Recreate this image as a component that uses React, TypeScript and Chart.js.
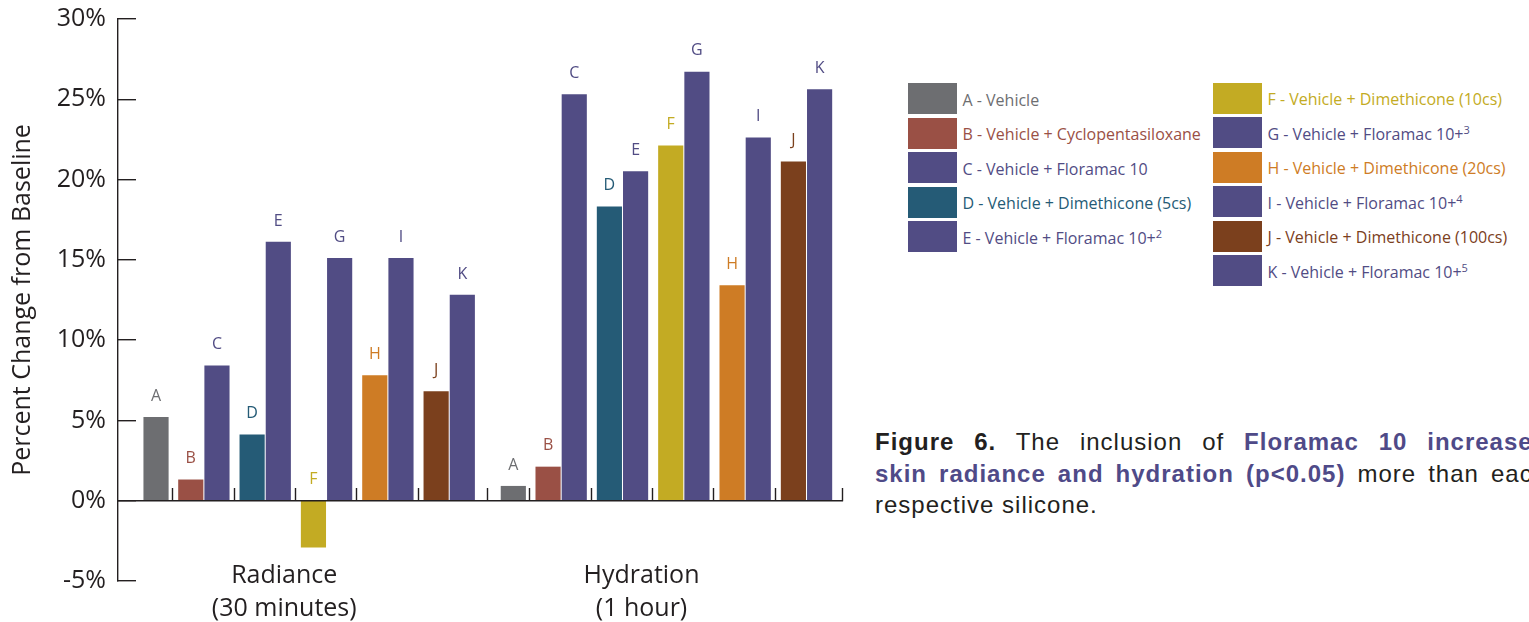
import React, { useEffect, useRef } from 'react';
import { Chart, registerables } from 'chart.js';

Chart.register(...registerables);

// ---------- data ----------
const LETTERS = ['A', 'B', 'C', 'D', 'E', 'F', 'G', 'H', 'I', 'J', 'K'];
const LEGEND_TEXT = [
  'A - Vehicle',
  'B - Vehicle + Cyclopentasiloxane',
  'C - Vehicle + Floramac 10',
  'D - Vehicle + Dimethicone (5cs)',
  'E - Vehicle + Floramac 10+',
  'F - Vehicle + Dimethicone (10cs)',
  'G - Vehicle + Floramac 10+',
  'H - Vehicle + Dimethicone (20cs)',
  'I - Vehicle + Floramac 10+',
  'J - Vehicle + Dimethicone (100cs)',
  'K - Vehicle + Floramac 10+',
];
const LEGEND_SUP = ['', '', '', '', '2', '', '3', '', '4', '', '5'];
const GROUP_LINES = [
  ['Radiance', '(30 minutes)'],
  ['Hydration', '(1 hour)'],
];
const RADIANCE = [5.2, 1.3, 8.4, 4.1, 16.1, -2.9, 15.1, 7.8, 15.1, 6.8, 12.8];
const HYDRATION = [0.9, 2.1, 25.3, 18.3, 20.5, 22.1, 26.7, 13.4, 22.6, 21.1, 25.6];
const Y_MIN = -5;
const Y_MAX = 30;
const Y_STEP = 5;
const Y_TITLE = 'Percent Change from Baseline';

// ---------- styles ----------
const COLORS = [
  '#6d6e71',
  '#9a5045',
  '#514c84',
  '#255b76',
  '#514c84',
  '#c3ab23',
  '#514c84',
  '#ce7c25',
  '#514c84',
  '#7b401d',
  '#514c84',
];
const INK = '#231f20';
const FONT = '"Open Sans", "Noto Sans", sans-serif';
const CAPTION_FONT = '"Liberation Sans", Arial, sans-serif';
const PURPLE_TXT = '#4f4a88';

// ---------- layout (x units: one pair-slot = 1) ----------
const A_SLOT = 0.69;
const PAIR_COUNT = 5;
const GROUP_GAP = 0.135;
const A_OFFSET = 0.28;
const PAIR_HALF = 0.2135;
const X_MIN = -0.9;
const X_MAX = 10.92;

function groupStart(g: number) {
  return g * (A_SLOT + PAIR_COUNT + GROUP_GAP) - A_SLOT;
}
function barX(g: number, i: number) {
  const s = groupStart(g);
  if (i === 0) return s + A_SLOT - A_OFFSET;
  const pair = Math.floor((i - 1) / 2);
  const side = (i - 1) % 2 === 0 ? -1 : 1;
  return s + A_SLOT + pair + 0.5 + side * PAIR_HALF;
}
function boundaries(): number[] {
  const out: number[] = [];
  GROUP_LINES.forEach((_, g) => {
    const s = groupStart(g);
    if (g > 0) out.push(s);
    for (let k = 0; k < PAIR_COUNT; k++) out.push(s + A_SLOT + k);
  });
  out.push(X_MAX);
  return out;
}

const decorPlugin = {
  id: 'decor',
  afterDatasetsDraw(chart: any) {
    const { ctx, chartArea, scales } = chart;
    const xs = scales.x;
    const ys = scales.y;
    const y0 = ys.getPixelForValue(0);
    ctx.save();
    // baseline + category separators
    ctx.strokeStyle = INK;
    ctx.lineWidth = 1.4;
    ctx.beginPath();
    ctx.moveTo(chartArea.left, y0);
    ctx.lineTo(chartArea.right, y0);
    boundaries().forEach((b) => {
      const px = Math.round(xs.getPixelForValue(b)) - 0.5;
      ctx.moveTo(px, y0 + 0.5);
      ctx.lineTo(px, y0 - 12.7);
    });
    ctx.stroke();

    // letters above bars
    ctx.font = `16px ${FONT}`;
    ctx.textAlign = 'center';
    ctx.textBaseline = 'alphabetic';
    chart.data.datasets.forEach((ds: any, i: number) => {
      const meta = chart.getDatasetMeta(i);
      meta.data.forEach((el: any) => {
        const top = Math.min(el.y, y0);
        ctx.fillStyle = COLORS[i];
        ctx.fillText(LETTERS[i], el.x, top - 16.5);
      });
    });

    // group labels
    ctx.fillStyle = INK;
    ctx.font = `25px ${FONT}`;
    GROUP_LINES.forEach((lines, g) => {
      const px = xs.getPixelForValue(groupStart(g) + 2.5);
      ctx.fillText(lines[0], px, 583);
      ctx.fillText(lines[1], px, 615.5);
    });
    ctx.restore();
  },
};

export default function App() {
  const ref = useRef<HTMLCanvasElement | null>(null);

  useEffect(() => {
    if (!ref.current) return;
    const chart = new Chart(ref.current, {
      type: 'bar',
      data: {
        datasets: LETTERS.map((l, i) => ({
          label: l,
          data: [RADIANCE[i], HYDRATION[i]].map((v, g) => ({ x: barX(g, i), y: v })),
          backgroundColor: COLORS[i],
          borderWidth: 0,
          barThickness: 24.5,
          grouped: false,
        })),
      },
      options: {
        animation: false,
        responsive: false,
        maintainAspectRatio: false,
        layout: { padding: { top: 19, bottom: 41, left: 0, right: 27 } },
        plugins: { legend: { display: false }, tooltip: { enabled: false } },
        scales: {
          x: { type: 'linear', display: false, offset: false, min: X_MIN, max: X_MAX },
          y: {
            min: Y_MIN,
            max: Y_MAX,
            ticks: {
              stepSize: Y_STEP,
              callback: (v: any) => `${v}%`,
              font: { family: FONT, size: 25 },
              color: INK,
              padding: 30,
            },
            grid: {
              drawOnChartArea: false,
              drawTicks: true,
              tickLength: -18,
              color: INK,
              lineWidth: 1.4,
            },
            border: { display: true, color: INK, width: 1.4 },
            title: {
              display: true,
              text: Y_TITLE,
              font: { family: FONT, size: 25 },
              color: INK,
              padding: { top: 8, bottom: 0 },
            },
            afterFit: (s: any) => {
              s.width = 118;
              s.paddingTop = 0;
              s.paddingBottom = 0;
            },
          },
        },
      } as any,
      plugins: [decorPlugin],
    });
    return () => chart.destroy();
  }, []);

  return (
    <div
      style={{
        position: 'absolute',
        left: 0,
        top: 0,
        width: 1529,
        height: 622,
        overflow: 'hidden',
        background: '#fff',
      }}
    >
      <canvas ref={ref} width={870} height={622} style={{ position: 'absolute', left: 0, top: 0 }} />
      {LETTERS.map((l, i) => {
        const col = i < 5 ? 0 : 1;
        const row = col ? i - 5 : i;
        const left = col ? 1213 : 908;
        const top = (col ? 82.5 : 83.3) + row * 34.5;
        return (
          <div
            key={l}
            style={{
              position: 'absolute',
              left,
              top,
              height: 31,
              display: 'flex',
              alignItems: 'center',
              whiteSpace: 'nowrap',
            }}
          >
            <div style={{ width: 48.5, height: 31, background: COLORS[i] }} />
            <span
              style={{
                marginLeft: 6,
                color: COLORS[i],
                fontFamily: FONT,
                fontSize: 16,
                position: 'relative',
                top: 1,
              }}
            >
              {LEGEND_TEXT[i]}
              {LEGEND_SUP[i] && (
                <sup style={{ fontSize: 11, lineHeight: 0, verticalAlign: 'super' }}>{LEGEND_SUP[i]}</sup>
              )}
            </span>
          </div>
        );
      })}
      <div
        style={{
          position: 'absolute',
          left: 875,
          top: 426,
          width: 672,
          fontFamily: CAPTION_FONT,
          fontSize: 24,
          lineHeight: '31.7px',
          letterSpacing: 1,
          color: INK,
          whiteSpace: 'nowrap',
        }}
      >
        <div style={{ textAlign: 'justify', textAlignLast: 'justify', whiteSpace: 'normal' }}>
          <b>Figure 6.</b> The inclusion of <b style={{ color: PURPLE_TXT }}>Floramac 10 increases</b>
        </div>
        <div style={{ textAlign: 'justify', textAlignLast: 'justify', whiteSpace: 'normal' }}>
          <b style={{ color: PURPLE_TXT }}>skin radiance and hydration (p&lt;0.05)</b> more than each
        </div>
        <div>respective silicone.</div>
      </div>
    </div>
  );
}
